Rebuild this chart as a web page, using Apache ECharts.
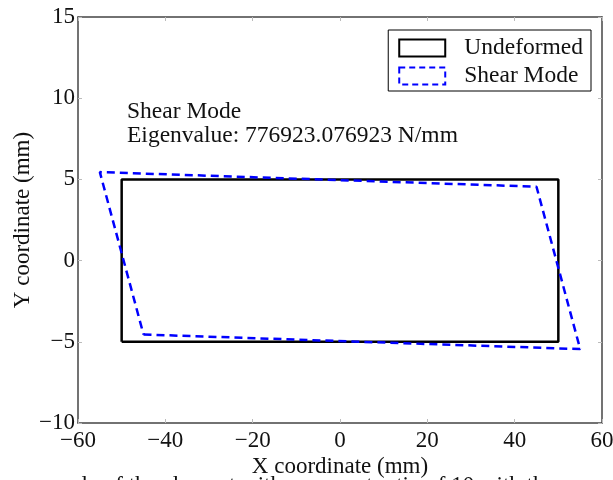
<!DOCTYPE html>
<html>
<head>
<meta charset="utf-8">
<script src="https://cdn.jsdelivr.net/npm/echarts@6/dist/echarts.min.js"></script>
<style>html,body{margin:0;padding:0;background:#fff}#c{width:613px;height:480px}</style>
</head>
<body>
<div id="c"></div>
<script>
// Data
var undeformedX = [-50, 50, 50, -50, -50];
var undeformedY = [-5, -5, 5, 5, -5];
var shearX = [-45, 55, 45, -55, -45];
var shearY = [-4.55, -5.45, 4.55, 5.45, -4.55];
var seriesNames = ['Undeformed', 'Shear Mode'];
var xTicks = [-60, -40, -20, 0, 20, 40, 60];
var yTicks = [-10, -5, 0, 5, 10, 15];
var xTitle = 'X coordinate (mm)';
var yTitle = 'Y coordinate (mm)';
var annotation1 = 'Shear Mode';
var annotation2 = 'Eigenvalue: 776923.076923 N/mm';
var caption = 'mple of the element with an aspect ratio of 10 with the';

var FONT = 'Liberation Serif';
function pairs(xs, ys){ return xs.map(function(x,i){ return [x, ys[i]]; }); }
function fmt(v){ return String(v).replace('-', '\u2212'); }

var chart = echarts.init(document.getElementById('c'), null, {renderer:'canvas'});
var axisCommon = {
  axisLine:{show:true, onZero:false, lineStyle:{color:'#444', width:1.5}},
  axisTick:{show:true, inside:true, length:4, lineStyle:{color:'#bbb', width:1}},
  splitLine:{show:false}
};
chart.setOption({
  animation:false,
  backgroundColor:'#fff',
  grid:{left:78, right:11, top:17, bottom:57, containLabel:false, outerBoundsMode:'none'},
  xAxis:[
    Object.assign({type:'value', position:'bottom', min:xTicks[0], max:xTicks[xTicks.length-1], interval:20,
      name:xTitle, nameLocation:'middle', nameGap:32, nameMoveOverlap:false,
      nameTextStyle:{fontFamily:FONT, fontSize:23, color:'#111'},
      axisLabel:{formatter:fmt, fontFamily:FONT, fontSize:23, color:'#111', margin:6}}, axisCommon),
    Object.assign({type:'value', position:'top', min:xTicks[0], max:xTicks[xTicks.length-1], interval:20,
      axisLabel:{show:false}}, axisCommon)
  ],
  yAxis:[
    Object.assign({type:'value', position:'left', min:yTicks[0], max:yTicks[yTicks.length-1], interval:5,
      name:yTitle, nameLocation:'middle', nameGap:44, nameMoveOverlap:false,
      nameTextStyle:{fontFamily:FONT, fontSize:23, color:'#111'},
      axisLabel:{formatter:fmt, fontFamily:FONT, fontSize:23, color:'#111', margin:3}}, axisCommon),
    Object.assign({type:'value', position:'right', min:yTicks[0], max:yTicks[yTicks.length-1], interval:5,
      axisLabel:{show:false}}, axisCommon)
  ],
  legend:{
    orient:'vertical', right:22, top:30,
    backgroundColor:'#fff', borderColor:'#000', borderWidth:1, borderRadius:0,
    padding:[6,8,3,10], itemGap:4, itemWidth:46, itemHeight:17,
    textStyle:{fontFamily:FONT, fontSize:23.5, color:'#111', padding:[0,0,0,14]},
    data:[
      {name:seriesNames[0], icon:'rect', itemStyle:{color:'#fff', borderColor:'#000', borderWidth:2}},
      {name:seriesNames[1], icon:'rect', itemStyle:{color:'#fff', borderColor:'#0000ff', borderWidth:2, borderType:[6,4]}}
    ]
  },
  series:[
    {name:seriesNames[0], type:'line', data:pairs(undeformedX, undeformedY), showSymbol:false, symbol:'none',
      lineStyle:{color:'#000', width:2.5}, itemStyle:{color:'#000'}, z:2},
    {name:seriesNames[1], type:'line', data:pairs(shearX, shearY), showSymbol:false, symbol:'none',
      lineStyle:{color:'#0000ff', width:2.5, type:[8,5]}, itemStyle:{color:'#0000ff'}, z:3}
  ],
  graphic:[
    {type:'text', left:127, top:100, style:{text:annotation1 + '\n' + annotation2, font:'23.5px "' + FONT + '"', fill:'#111', lineHeight:24}},
    {type:'text', left:52, top:474, style:{text:caption, font:'23px "' + FONT + '"', fill:'#111'}}
  ]
});
</script>
</body>
</html>
